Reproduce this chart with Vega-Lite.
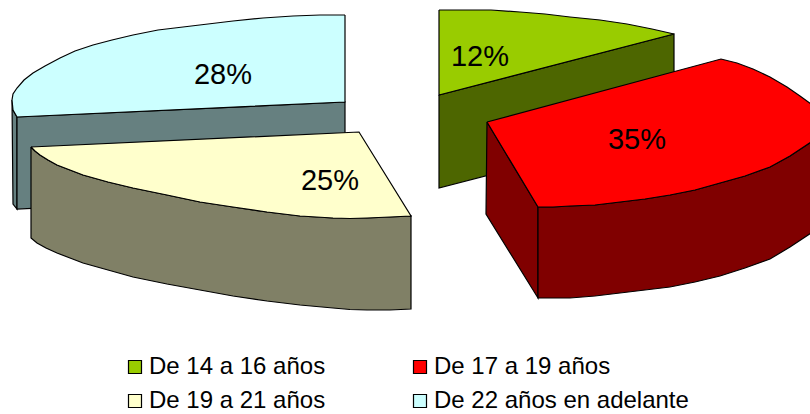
{"$schema":"https://vega.github.io/schema/vega-lite/v6.json","width":810,"height":414,"padding":0,"autosize":{"type":"fit","contains":"padding"},"background":"white","config":{"view":{"stroke":null}},
"datasets":{"faces":[
{"segment":"De 22 años en adelante","part":"cyan-left","n":0,"x":12,"y":100},{"segment":"De 22 años en adelante","part":"cyan-left","n":1,"x":13,"y":110},{"segment":"De 22 años en adelante","part":"cyan-left","n":2,"x":17,"y":117},{"segment":"De 22 años en adelante","part":"cyan-left","n":3,"x":17,"y":209},{"segment":"De 22 años en adelante","part":"cyan-left","n":4,"x":13,"y":204},{"segment":"De 22 años en adelante","part":"cyan-left","n":5,"x":12,"y":100},
{"segment":"De 22 años en adelante","part":"cyan-front","n":0,"x":17,"y":117},{"segment":"De 22 años en adelante","part":"cyan-front","n":1,"x":345,"y":102},{"segment":"De 22 años en adelante","part":"cyan-front","n":2,"x":345,"y":193},{"segment":"De 22 años en adelante","part":"cyan-front","n":3,"x":17,"y":209},{"segment":"De 22 años en adelante","part":"cyan-front","n":4,"x":17,"y":117},
{"segment":"De 14 a 16 años","part":"green-front","n":0,"x":439,"y":95},{"segment":"De 14 a 16 años","part":"green-front","n":1,"x":674,"y":34},{"segment":"De 14 a 16 años","part":"green-front","n":2,"x":674,"y":127},{"segment":"De 14 a 16 años","part":"green-front","n":3,"x":439,"y":188},{"segment":"De 14 a 16 años","part":"green-front","n":4,"x":439,"y":95},
{"segment":"De 19 a 21 años","part":"yellow-outer","n":0,"x":31,"y":147},{"segment":"De 19 a 21 años","part":"yellow-outer","n":1,"x":35,"y":151},{"segment":"De 19 a 21 años","part":"yellow-outer","n":2,"x":40,"y":155},{"segment":"De 19 a 21 años","part":"yellow-outer","n":3,"x":48,"y":160},{"segment":"De 19 a 21 años","part":"yellow-outer","n":4,"x":57,"y":165},{"segment":"De 19 a 21 años","part":"yellow-outer","n":5,"x":70,"y":170},{"segment":"De 19 a 21 años","part":"yellow-outer","n":6,"x":83,"y":175},{"segment":"De 19 a 21 años","part":"yellow-outer","n":7,"x":108,"y":182},{"segment":"De 19 a 21 años","part":"yellow-outer","n":8,"x":133,"y":188},{"segment":"De 19 a 21 años","part":"yellow-outer","n":9,"x":167,"y":195},{"segment":"De 19 a 21 años","part":"yellow-outer","n":10,"x":200,"y":202},{"segment":"De 19 a 21 años","part":"yellow-outer","n":11,"x":233,"y":207},{"segment":"De 19 a 21 años","part":"yellow-outer","n":12,"x":267,"y":212},{"segment":"De 19 a 21 años","part":"yellow-outer","n":13,"x":300,"y":216},{"segment":"De 19 a 21 años","part":"yellow-outer","n":14,"x":333,"y":218},{"segment":"De 19 a 21 años","part":"yellow-outer","n":15,"x":350,"y":218.5},{"segment":"De 19 a 21 años","part":"yellow-outer","n":16,"x":367,"y":218},{"segment":"De 19 a 21 años","part":"yellow-outer","n":17,"x":390,"y":217},{"segment":"De 19 a 21 años","part":"yellow-outer","n":18,"x":411,"y":216},{"segment":"De 19 a 21 años","part":"yellow-outer","n":19,"x":411,"y":309},{"segment":"De 19 a 21 años","part":"yellow-outer","n":20,"x":390,"y":310},{"segment":"De 19 a 21 años","part":"yellow-outer","n":21,"x":367,"y":310},{"segment":"De 19 a 21 años","part":"yellow-outer","n":22,"x":350,"y":309.5},{"segment":"De 19 a 21 años","part":"yellow-outer","n":23,"x":333,"y":308},{"segment":"De 19 a 21 años","part":"yellow-outer","n":24,"x":300,"y":305},{"segment":"De 19 a 21 años","part":"yellow-outer","n":25,"x":267,"y":301},{"segment":"De 19 a 21 años","part":"yellow-outer","n":26,"x":233,"y":296},{"segment":"De 19 a 21 años","part":"yellow-outer","n":27,"x":200,"y":290},{"segment":"De 19 a 21 años","part":"yellow-outer","n":28,"x":167,"y":284},{"segment":"De 19 a 21 años","part":"yellow-outer","n":29,"x":133,"y":277},{"segment":"De 19 a 21 años","part":"yellow-outer","n":30,"x":108,"y":270},{"segment":"De 19 a 21 años","part":"yellow-outer","n":31,"x":83,"y":263},{"segment":"De 19 a 21 años","part":"yellow-outer","n":32,"x":70,"y":258},{"segment":"De 19 a 21 años","part":"yellow-outer","n":33,"x":57,"y":253},{"segment":"De 19 a 21 años","part":"yellow-outer","n":34,"x":46,"y":248},{"segment":"De 19 a 21 años","part":"yellow-outer","n":35,"x":37,"y":243},{"segment":"De 19 a 21 años","part":"yellow-outer","n":36,"x":31,"y":238},{"segment":"De 19 a 21 años","part":"yellow-outer","n":37,"x":31,"y":147},
{"segment":"De 17 a 19 años","part":"red-left","n":0,"x":487,"y":122},{"segment":"De 17 a 19 años","part":"red-left","n":1,"x":538,"y":207},{"segment":"De 17 a 19 años","part":"red-left","n":2,"x":538,"y":298},{"segment":"De 17 a 19 años","part":"red-left","n":3,"x":486,"y":214},{"segment":"De 17 a 19 años","part":"red-left","n":4,"x":487,"y":122},
{"segment":"De 17 a 19 años","part":"red-outer","n":0,"x":538,"y":207},{"segment":"De 17 a 19 años","part":"red-outer","n":1,"x":553,"y":207},{"segment":"De 17 a 19 años","part":"red-outer","n":2,"x":570,"y":206},{"segment":"De 17 a 19 años","part":"red-outer","n":3,"x":595,"y":205},{"segment":"De 17 a 19 años","part":"red-outer","n":4,"x":620,"y":202},{"segment":"De 17 a 19 años","part":"red-outer","n":5,"x":645,"y":199},{"segment":"De 17 a 19 años","part":"red-outer","n":6,"x":670,"y":195},{"segment":"De 17 a 19 años","part":"red-outer","n":7,"x":695,"y":190},{"segment":"De 17 a 19 años","part":"red-outer","n":8,"x":720,"y":183},{"segment":"De 17 a 19 años","part":"red-outer","n":9,"x":745,"y":176},{"segment":"De 17 a 19 años","part":"red-outer","n":10,"x":770,"y":167},{"segment":"De 17 a 19 años","part":"red-outer","n":11,"x":790,"y":156},{"segment":"De 17 a 19 años","part":"red-outer","n":12,"x":811,"y":142},{"segment":"De 17 a 19 años","part":"red-outer","n":13,"x":811,"y":233},{"segment":"De 17 a 19 años","part":"red-outer","n":14,"x":790,"y":247},{"segment":"De 17 a 19 años","part":"red-outer","n":15,"x":770,"y":259},{"segment":"De 17 a 19 años","part":"red-outer","n":16,"x":745,"y":268},{"segment":"De 17 a 19 años","part":"red-outer","n":17,"x":720,"y":276},{"segment":"De 17 a 19 años","part":"red-outer","n":18,"x":695,"y":282},{"segment":"De 17 a 19 años","part":"red-outer","n":19,"x":670,"y":287},{"segment":"De 17 a 19 años","part":"red-outer","n":20,"x":645,"y":290},{"segment":"De 17 a 19 años","part":"red-outer","n":21,"x":620,"y":293},{"segment":"De 17 a 19 años","part":"red-outer","n":22,"x":595,"y":296},{"segment":"De 17 a 19 años","part":"red-outer","n":23,"x":570,"y":298},{"segment":"De 17 a 19 años","part":"red-outer","n":24,"x":553,"y":298},{"segment":"De 17 a 19 años","part":"red-outer","n":25,"x":538,"y":298},{"segment":"De 17 a 19 años","part":"red-outer","n":26,"x":538,"y":207},
{"segment":"De 22 años en adelante","part":"top","n":0,"x":345,"y":15},{"segment":"De 22 años en adelante","part":"top","n":1,"x":320,"y":15},{"segment":"De 22 años en adelante","part":"top","n":2,"x":293,"y":16},{"segment":"De 22 años en adelante","part":"top","n":3,"x":263,"y":18},{"segment":"De 22 años en adelante","part":"top","n":4,"x":233,"y":21},{"segment":"De 22 años en adelante","part":"top","n":5,"x":208,"y":24},{"segment":"De 22 años en adelante","part":"top","n":6,"x":183,"y":27},{"segment":"De 22 años en adelante","part":"top","n":7,"x":158,"y":30},{"segment":"De 22 años en adelante","part":"top","n":8,"x":133,"y":35},{"segment":"De 22 años en adelante","part":"top","n":9,"x":112,"y":40},{"segment":"De 22 años en adelante","part":"top","n":10,"x":93,"y":45},{"segment":"De 22 años en adelante","part":"top","n":11,"x":75,"y":51},{"segment":"De 22 años en adelante","part":"top","n":12,"x":60,"y":58},{"segment":"De 22 años en adelante","part":"top","n":13,"x":45,"y":66},{"segment":"De 22 años en adelante","part":"top","n":14,"x":33,"y":73},{"segment":"De 22 años en adelante","part":"top","n":15,"x":24,"y":80},{"segment":"De 22 años en adelante","part":"top","n":16,"x":17,"y":88},{"segment":"De 22 años en adelante","part":"top","n":17,"x":13,"y":94},{"segment":"De 22 años en adelante","part":"top","n":18,"x":12,"y":100},{"segment":"De 22 años en adelante","part":"top","n":19,"x":13,"y":110},{"segment":"De 22 años en adelante","part":"top","n":20,"x":17,"y":117},{"segment":"De 22 años en adelante","part":"top","n":21,"x":345,"y":102},{"segment":"De 22 años en adelante","part":"top","n":22,"x":345,"y":15},
{"segment":"De 14 a 16 años","part":"top","n":0,"x":439,"y":10},{"segment":"De 14 a 16 años","part":"top","n":1,"x":491,"y":10},{"segment":"De 14 a 16 años","part":"top","n":2,"x":520,"y":12},{"segment":"De 14 a 16 años","part":"top","n":3,"x":545,"y":14},{"segment":"De 14 a 16 años","part":"top","n":4,"x":570,"y":17},{"segment":"De 14 a 16 años","part":"top","n":5,"x":600,"y":20},{"segment":"De 14 a 16 años","part":"top","n":6,"x":627,"y":24},{"segment":"De 14 a 16 años","part":"top","n":7,"x":652,"y":29},{"segment":"De 14 a 16 años","part":"top","n":8,"x":674,"y":34},{"segment":"De 14 a 16 años","part":"top","n":9,"x":439,"y":95},{"segment":"De 14 a 16 años","part":"top","n":10,"x":439,"y":10},
{"segment":"De 19 a 21 años","part":"top","n":0,"x":31,"y":147},{"segment":"De 19 a 21 años","part":"top","n":1,"x":359,"y":132},{"segment":"De 19 a 21 años","part":"top","n":2,"x":411,"y":216},{"segment":"De 19 a 21 años","part":"top","n":3,"x":390,"y":217},{"segment":"De 19 a 21 años","part":"top","n":4,"x":367,"y":218},{"segment":"De 19 a 21 años","part":"top","n":5,"x":350,"y":218.5},{"segment":"De 19 a 21 años","part":"top","n":6,"x":333,"y":218},{"segment":"De 19 a 21 años","part":"top","n":7,"x":300,"y":216},{"segment":"De 19 a 21 años","part":"top","n":8,"x":267,"y":212},{"segment":"De 19 a 21 años","part":"top","n":9,"x":233,"y":207},{"segment":"De 19 a 21 años","part":"top","n":10,"x":200,"y":202},{"segment":"De 19 a 21 años","part":"top","n":11,"x":167,"y":195},{"segment":"De 19 a 21 años","part":"top","n":12,"x":133,"y":188},{"segment":"De 19 a 21 años","part":"top","n":13,"x":108,"y":182},{"segment":"De 19 a 21 años","part":"top","n":14,"x":83,"y":175},{"segment":"De 19 a 21 años","part":"top","n":15,"x":70,"y":170},{"segment":"De 19 a 21 años","part":"top","n":16,"x":57,"y":165},{"segment":"De 19 a 21 años","part":"top","n":17,"x":48,"y":160},{"segment":"De 19 a 21 años","part":"top","n":18,"x":40,"y":155},{"segment":"De 19 a 21 años","part":"top","n":19,"x":35,"y":151},{"segment":"De 19 a 21 años","part":"top","n":20,"x":31,"y":147},
{"segment":"De 17 a 19 años","part":"top","n":0,"x":487,"y":122},{"segment":"De 17 a 19 años","part":"top","n":1,"x":721,"y":59},{"segment":"De 17 a 19 años","part":"top","n":2,"x":737,"y":63},{"segment":"De 17 a 19 años","part":"top","n":3,"x":753,"y":69},{"segment":"De 17 a 19 años","part":"top","n":4,"x":770,"y":77},{"segment":"De 17 a 19 años","part":"top","n":5,"x":787,"y":87},{"segment":"De 17 a 19 años","part":"top","n":6,"x":800,"y":96},{"segment":"De 17 a 19 años","part":"top","n":7,"x":811,"y":104},{"segment":"De 17 a 19 años","part":"top","n":8,"x":811,"y":142},{"segment":"De 17 a 19 años","part":"top","n":9,"x":790,"y":156},{"segment":"De 17 a 19 años","part":"top","n":10,"x":770,"y":167},{"segment":"De 17 a 19 años","part":"top","n":11,"x":745,"y":176},{"segment":"De 17 a 19 años","part":"top","n":12,"x":720,"y":183},{"segment":"De 17 a 19 años","part":"top","n":13,"x":695,"y":190},{"segment":"De 17 a 19 años","part":"top","n":14,"x":670,"y":195},{"segment":"De 17 a 19 años","part":"top","n":15,"x":645,"y":199},{"segment":"De 17 a 19 años","part":"top","n":16,"x":620,"y":202},{"segment":"De 17 a 19 años","part":"top","n":17,"x":595,"y":205},{"segment":"De 17 a 19 años","part":"top","n":18,"x":570,"y":206},{"segment":"De 17 a 19 años","part":"top","n":19,"x":553,"y":207},{"segment":"De 17 a 19 años","part":"top","n":20,"x":538,"y":207},{"segment":"De 17 a 19 años","part":"top","n":21,"x":487,"y":122}
],
"labels":[{"segment":"De 14 a 16 años","share":0.12,"x":480,"y":57},{"segment":"De 17 a 19 años","share":0.35,"x":637,"y":140},{"segment":"De 19 a 21 años","share":0.25,"x":330,"y":181},{"segment":"De 22 años en adelante","share":0.28,"x":223,"y":75}]},
"encoding":{"x":{"field":"x","type":"quantitative","axis":null,"scale":{"domain":[0,810],"nice":false,"zero":false}},"y":{"field":"y","type":"quantitative","axis":null,"scale":{"domain":[414,0],"nice":false,"zero":false}}},
"layer":[
{"data":{"name":"faces"},"transform":[{"filter":"datum.part !== 'top'"}],"mark":{"type":"line","stroke":"black","strokeWidth":1.2,"interpolate":"linear","clip":true},"encoding":{"detail":{"field":"part"},"order":{"field":"n","type":"quantitative"},"fill":{"field":"segment","type":"nominal","legend":null,"scale":{"domain":["De 14 a 16 años","De 17 a 19 años","De 19 a 21 años","De 22 años en adelante"],"range":["#4D6600","#800000","#808066","#668080"]}}}},
{"data":{"name":"faces"},"transform":[{"filter":"datum.part === 'top'"}],"mark":{"type":"line","stroke":"black","strokeWidth":1.2,"interpolate":"linear","clip":true},"encoding":{"detail":{"field":"segment"},"order":{"field":"n","type":"quantitative"},"fill":{"field":"segment","type":"nominal","scale":{"domain":["De 14 a 16 años","De 17 a 19 años","De 19 a 21 años","De 22 años en adelante"],"range":["#99CC00","#FF0000","#FFFFCC","#CCFFFF"]},"legend":{"title":null,"orient":"none","legendX":123,"legendY":355,"columns":2,"direction":"horizontal","columnPadding":82,"rowPadding":10,"symbolType":"square","symbolSize":169,"symbolStrokeColor":"black","symbolStrokeWidth":1.2,"symbolOpacity":1,"labelFont":"Liberation Sans","labelFontSize":24,"labelColor":"black","labelOffset":2,"labelLimit":400}}}},
{"data":{"name":"labels"},"mark":{"type":"text","font":"Liberation Sans","fontSize":29,"color":"black","align":"center","baseline":"middle"},"encoding":{"text":{"field":"share","type":"quantitative","format":".0%"}}}
],
"resolve":{"scale":{"fill":"independent"}}}
